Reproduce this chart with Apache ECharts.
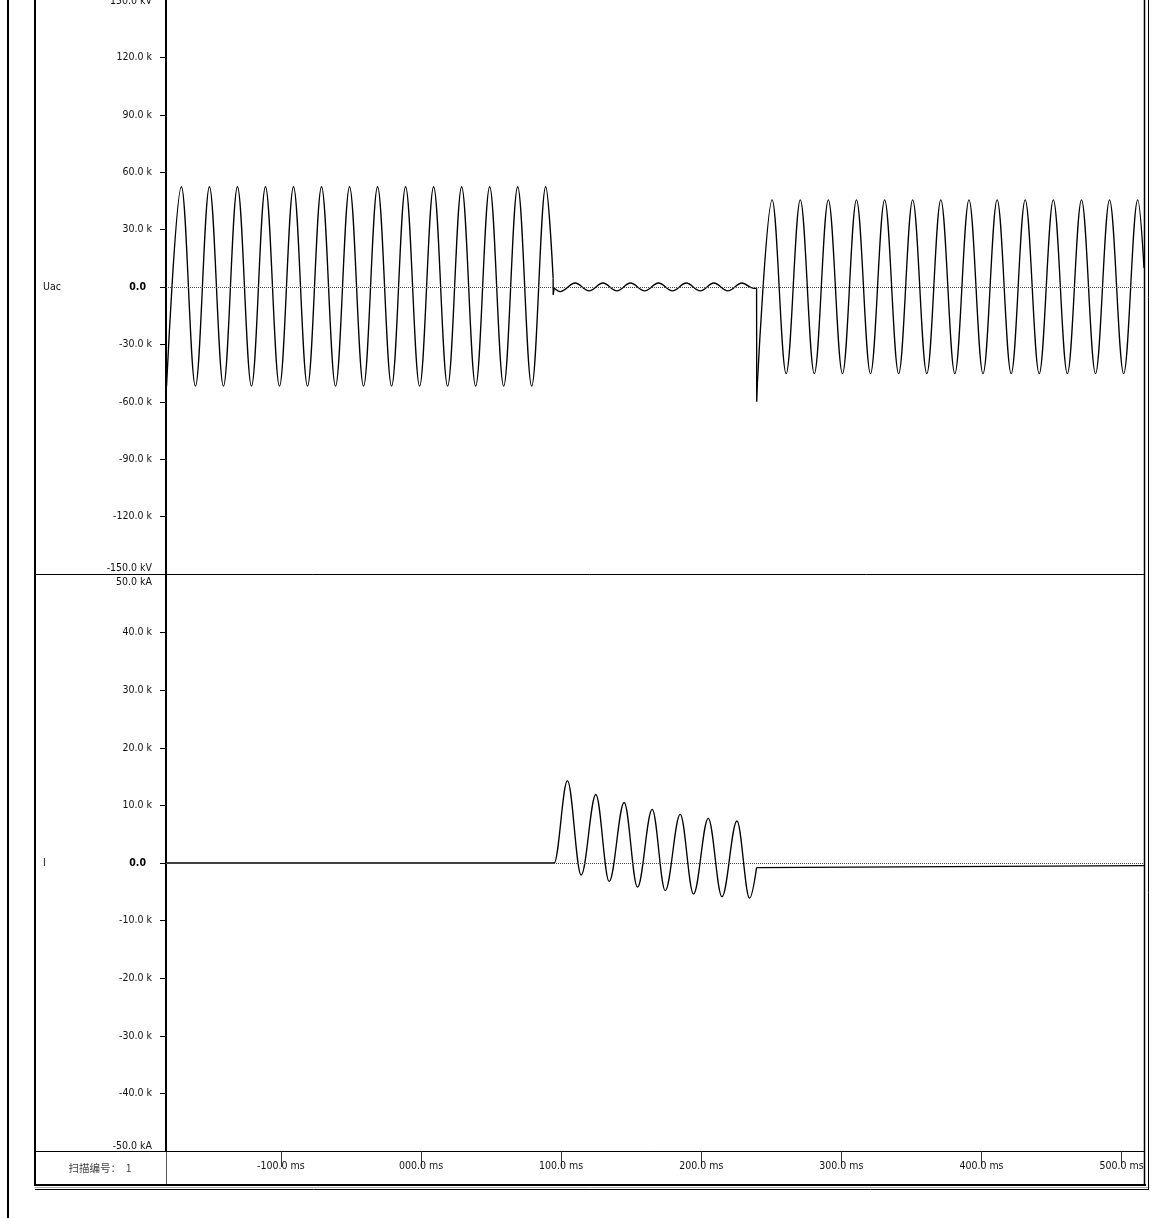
<!DOCTYPE html>
<html>
<head>
<meta charset="utf-8">
<script src="https://cdn.jsdelivr.net/npm/echarts@6/dist/echarts.min.js"></script>
<style>
html,body{margin:0;padding:0;background:#fff;}
#c{width:1176px;height:1218px;}
</style>
</head>
<body>
<div id="c"></div>
<script>
// ---------- axis ticks / labels ----------
const timeTicks = [-100, 0, 100, 200, 300, 400, 500];
const timeTickLabels = ['-100.0 ms', '000.0 ms', '100.0 ms', '200.0 ms', '300.0 ms', '400.0 ms', '500.0 ms'];
const uacTickValues = [-120, -90, -60, -30, 0, 30, 60, 90, 120];
const iTickValues = [-40, -30, -20, -10, 0, 10, 20, 30, 40];
const channelNames = ['Uac', 'I'];
const sweepLabel = '扫描编号：  1';

// ---------- Uac (kV): extrema, [ms, kV] ----------
const uacPreFault = [
  [-181.6, -51.8], [-171, 52.4], [-161, -51.8], [-151, 52.4], [-141, -51.8], [-131, 52.4],
  [-121, -51.8], [-111, 52.4], [-101, -51.8], [-91, 52.4], [-81, -51.8], [-71, 52.4],
  [-61, -51.8], [-51, 52.4], [-41, -51.8], [-31, 52.4], [-21, -51.8], [-11, 52.4],
  [-1, -51.8], [9, 52.4], [19, -51.8], [29, 52.4], [39, -51.8], [49, 52.4],
  [59, -51.8], [69, 52.4], [79, -51.8], [89, 52.4], [94.3, 4.5]
];
const uacFaultStep = [[94.3, 4.5], [94.35, -4.2], [95.0, -0.5]];
const uacDuringFault = [
  [95.0, -0.5], [99.4, -2.4], [110.0, 2.1], [120.0, -2.0], [129.8, 2.1], [139.8, -2.0],
  [149.5, 2.1], [159.6, -2.0], [169.5, 2.1], [179.5, -2.0], [189.3, 2.1], [199.3, -2.0],
  [209.0, 2.1], [219.0, -2.0], [229.1, 2.1], [237.4, -0.7], [239.5, -0.7]
];
const uacClearSpike = [[239.5, -0.7], [239.6, -60], [240.1, -50]];
const uacRecovery = [
  [240.1, -50], [250.6, 45.5], [260.6, -45.3], [270.7, 45.5], [280.7, -45.3], [290.7, 45.5],
  [300.8, -45.3], [310.8, 45.5], [320.8, -45.3], [330.9, 45.5], [340.9, -45.3], [350.9, 45.5],
  [361.0, -45.3], [371.0, 45.5], [381.0, -45.3], [391.1, 45.5], [401.1, -45.3], [411.2, 45.5],
  [421.2, -45.3], [431.2, 45.5], [441.2, -45.3], [451.3, 45.5], [461.3, -45.3], [471.4, 45.5],
  [481.4, -45.3], [491.4, 45.5], [501.5, -45.3], [511.5, 45.5], [516, 10]
];

// ---------- I (kA): extrema, [ms, kA] ----------
const iFault = [
  [-182, 0], [95, 0], [104.5, 14.3], [114.3, -2.1], [124.8, 11.9], [134.3, -3.2],
  [145, 10.5], [154.5, -4.2], [165, 9.3], [174.3, -4.8], [185, 8.45], [194.5, -5.4],
  [205, 7.76], [214.8, -5.85], [225.5, 7.3], [234.5, -6.1], [239.5, -0.8]
];
const iPostFault = [[239.5, -0.8], [516, -0.45]];

// ---------- chart ----------
const FONT = '"DejaVu Sans Condensed", "DejaVu Sans"';
const FS = 10.5;
const labelColor = '#111';
const wave = { color: '#000', width: 1.35 };
const zeroLine = {
  silent: true, symbol: 'none', label: { show: false },
  lineStyle: { type: 'dotted', color: '#444', width: 1 },
  data: [{ yAxis: 0 }], animation: false
};

function line(data, xi, smooth, extra) {
  return Object.assign({
    type: 'line', xAxisIndex: xi, yAxisIndex: xi, data: data,
    smooth: smooth ? 0.36 : false, smoothMonotone: smooth ? 'x' : undefined,
    showSymbol: false, symbol: 'none', lineStyle: wave, silent: true,
    emphasis: { disabled: true }, animation: false
  }, extra || {});
}

function yAxisDef(idx, lo, hi, step, ticks, unit, name) {
  return {
    type: 'value', gridIndex: idx, min: lo, max: hi, interval: step,
    name: name, nameLocation: 'middle', nameGap: 123, nameRotate: 0, nameMoveOverlap: false,
    nameTextStyle: { align: 'left', verticalAlign: 'middle', fontFamily: FONT, fontSize: FS, color: labelColor },
    axisLine: { show: true, onZero: false, lineStyle: { color: '#000', width: 2 } },
    axisTick: { show: true, length: 6, customValues: ticks, lineStyle: { color: '#000', width: 1 } },
    splitLine: { show: false },
    axisLabel: {
      margin: 14, fontFamily: FONT, fontSize: FS, color: labelColor,
      formatter: function (v) {
        if (v === 0) return '{z|0.0}';
        if (v === hi) return '{hi|' + v.toFixed(1) + ' ' + unit + '}';
        if (v === lo) return '{lo|' + v.toFixed(1) + ' ' + unit + '}';
        return v.toFixed(1) + ' k';
      },
      rich: {
        z: { fontWeight: 'bold', fontFamily: FONT, fontSize: FS, color: '#000', padding: [0, 6, 0, 0] },
        hi: { fontFamily: FONT, fontSize: FS, color: labelColor, padding: idx === 0 ? [2, 0, 0, 0] : [14, 0, 0, 0] },
        lo: { fontFamily: FONT, fontSize: FS, color: labelColor, padding: idx === 0 ? [0, 0, 12, 0] : [0, 0, 10, 0] }
      }
    }
  };
}

const frame = [
  { type: 'line', shape: { x1: 8, y1: 0, x2: 8, y2: 1218 }, style: { stroke: '#000', lineWidth: 2 } },
  { type: 'line', shape: { x1: 35, y1: 0, x2: 35, y2: 1186 }, style: { stroke: '#000', lineWidth: 2 } },
  { type: 'line', shape: { x1: 35, y1: 574.5, x2: 1144, y2: 574.5 }, style: { stroke: '#000', lineWidth: 1 } },
  { type: 'line', shape: { x1: 35, y1: 1151.5, x2: 166, y2: 1151.5 }, style: { stroke: '#000', lineWidth: 1 } },
  { type: 'line', shape: { x1: 166.5, y1: 1151, x2: 166.5, y2: 1185 }, style: { stroke: '#555', lineWidth: 1 } },
  { type: 'line', shape: { x1: 34, y1: 1185, x2: 1146, y2: 1185 }, style: { stroke: '#000', lineWidth: 2 } },
  { type: 'line', shape: { x1: 35, y1: 1187.5, x2: 1148, y2: 1187.5 }, style: { stroke: '#aaa', lineWidth: 1 } },
  { type: 'line', shape: { x1: 35, y1: 1189.5, x2: 1149, y2: 1189.5 }, style: { stroke: '#000', lineWidth: 1 } },
  { type: 'line', shape: { x1: 1144.5, y1: 0, x2: 1144.5, y2: 1186 }, style: { stroke: '#000', lineWidth: 1.5 } },
  { type: 'line', shape: { x1: 1148.5, y1: 0, x2: 1148.5, y2: 1190 }, style: { stroke: '#000', lineWidth: 1 } },
  { type: 'text', x: 100, y: 1168, style: { text: sweepLabel, align: 'center', verticalAlign: 'middle',
      font: '10.5px "Noto Sans CJK SC"', fill: '#444' } }
];

const option = {
  animation: false,
  backgroundColor: '#fff',
  grid: [
    { left: 166, top: 0, width: 978, height: 574, outerBoundsMode: 'none' },
    { left: 166, top: 575, width: 978, height: 576, outerBoundsMode: 'none' }
  ],
  xAxis: [
    { type: 'value', gridIndex: 0, min: -182, max: 516, show: false },
    {
      type: 'value', gridIndex: 1, min: -182, max: 516,
      axisLine: { show: true, onZero: false, lineStyle: { color: '#000', width: 1 } },
      axisTick: { show: true, length: 16, customValues: timeTicks, lineStyle: { color: '#333', width: 1 } },
      splitLine: { show: false },
      axisLabel: {
        customValues: timeTicks, margin: 10, fontFamily: FONT, fontSize: FS, color: labelColor,
        formatter: function (v) { const i = timeTicks.indexOf(v); return i >= 0 ? timeTickLabels[i] : ''; }
      }
    }
  ],
  yAxis: [
    yAxisDef(0, -150, 150, 30, uacTickValues, 'kV', channelNames[0]),
    yAxisDef(1, -50, 50, 10, iTickValues, 'kA', channelNames[1])
  ],
  graphic: frame,
  series: [
    line(uacPreFault, 0, true, { markLine: zeroLine }),
    line(uacFaultStep, 0, false),
    line(uacDuringFault, 0, true),
    line(uacClearSpike, 0, false),
    line(uacRecovery, 0, true),
    line(iFault, 1, true, { markLine: zeroLine }),
    line(iPostFault, 1, false)
  ]
};

const chart = echarts.init(document.getElementById('c'), null, { renderer: 'canvas' });
chart.setOption(option);
</script>
</body>
</html>
